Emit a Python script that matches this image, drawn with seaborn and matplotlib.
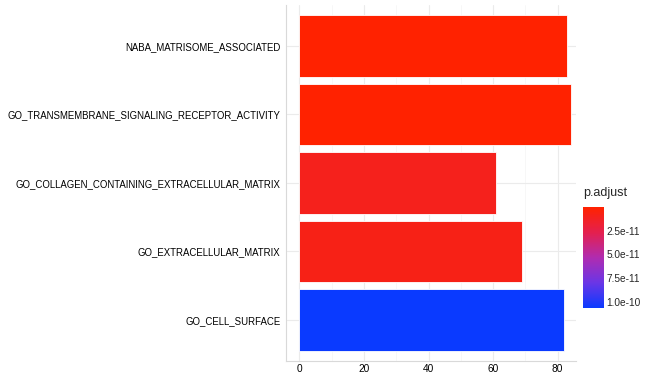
import numpy as np
import pandas as pd
import seaborn as sns
import matplotlib.pyplot as plt
from matplotlib.colors import LinearSegmentedColormap, Normalize
from matplotlib.cm import ScalarMappable

terms = [
    "NABA_MATRISOME_ASSOCIATED",
    "GO_TRANSMEMBRANE_SIGNALING_RECEPTOR_ACTIVITY",
    "GO_COLLAGEN_CONTAINING_EXTRACELLULAR_MATRIX",
    "GO_EXTRACELLULAR_MATRIX",
    "GO_CELL_SURFACE",
]
counts = [83, 84, 61, 69, 82]
padj = [2e-13, 5e-13, 1.0e-11, 8e-12, 1.07e-10]

df = pd.DataFrame({"Description": terms, "Count": counts, "p.adjust": padj})

sns.set_style("whitegrid")
plt.rcParams["font.family"] = ["Liberation Sans", "DejaVu Sans"]

cmap = LinearSegmentedColormap.from_list(
    "padj", ["#FF2200", "#E4204E", "#B02CB0", "#6A36E6", "#0A3AFF"])
norm = Normalize(vmin=min(padj), vmax=max(padj))
pal = {t: cmap(norm(p)) for t, p in zip(terms, padj)}

fig = plt.figure(figsize=(6.49, 3.74), dpi=100)
ax = fig.add_axes([0.4405, 0.035, 0.447, 0.952])

sns.barplot(data=df, x="Count", y="Description", hue="Description",
            palette=pal, legend=False, width=0.9, saturation=1,
            edgecolor="#ffffff", linewidth=0.6, ax=ax)

ax.set_xlim(-4.2, 85.7)
ax.set_ylim(4.6, -0.6)
ax.set_xticks([0, 20, 40, 60, 80])
ax.set_xticks([10, 30, 50, 70], minor=True)
ax.grid(True, which="major", color="#ebebeb", linewidth=0.8)
ax.grid(True, which="minor", axis="x", color="#f4f4f4", linewidth=0.5)
ax.set_axisbelow(True)
ax.set_xlabel("")
ax.set_ylabel("")
for s in ["top", "right"]:
    ax.spines[s].set_visible(False)
for s in ["left", "bottom"]:
    ax.spines[s].set_color("#d9d9d9")
    ax.spines[s].set_linewidth(0.8)
ax.tick_params(axis="y", labelsize=6.9, colors="#333333", labelcolor="black",
               length=2.5, width=0.6, pad=1.5)
ax.tick_params(axis="x", labelsize=7.3, colors="#333333", labelcolor="black",
               length=1.5, width=0.6, pad=0.5)
ax.tick_params(axis="x", which="minor", length=0)

cax = fig.add_axes([0.899, 0.176, 0.031, 0.27])
sm = ScalarMappable(norm=norm, cmap=cmap)
cb = fig.colorbar(sm, cax=cax)
cb.outline.set_visible(False)
cax.invert_yaxis()
cb.set_ticks([2.5e-11, 5.0e-11, 7.5e-11, 1.0e-10])
cb.set_ticklabels(["2.5e-11", "5.0e-11", "7.5e-11", "1.0e-10"])
cax.tick_params(labelsize=7.3, length=3, color="white", width=0.6, direction="in", pad=2)
fig.text(0.898, 0.468, "p.adjust", fontsize=9, ha="left", va="bottom")

fig.savefig("out.png", dpi=100)
